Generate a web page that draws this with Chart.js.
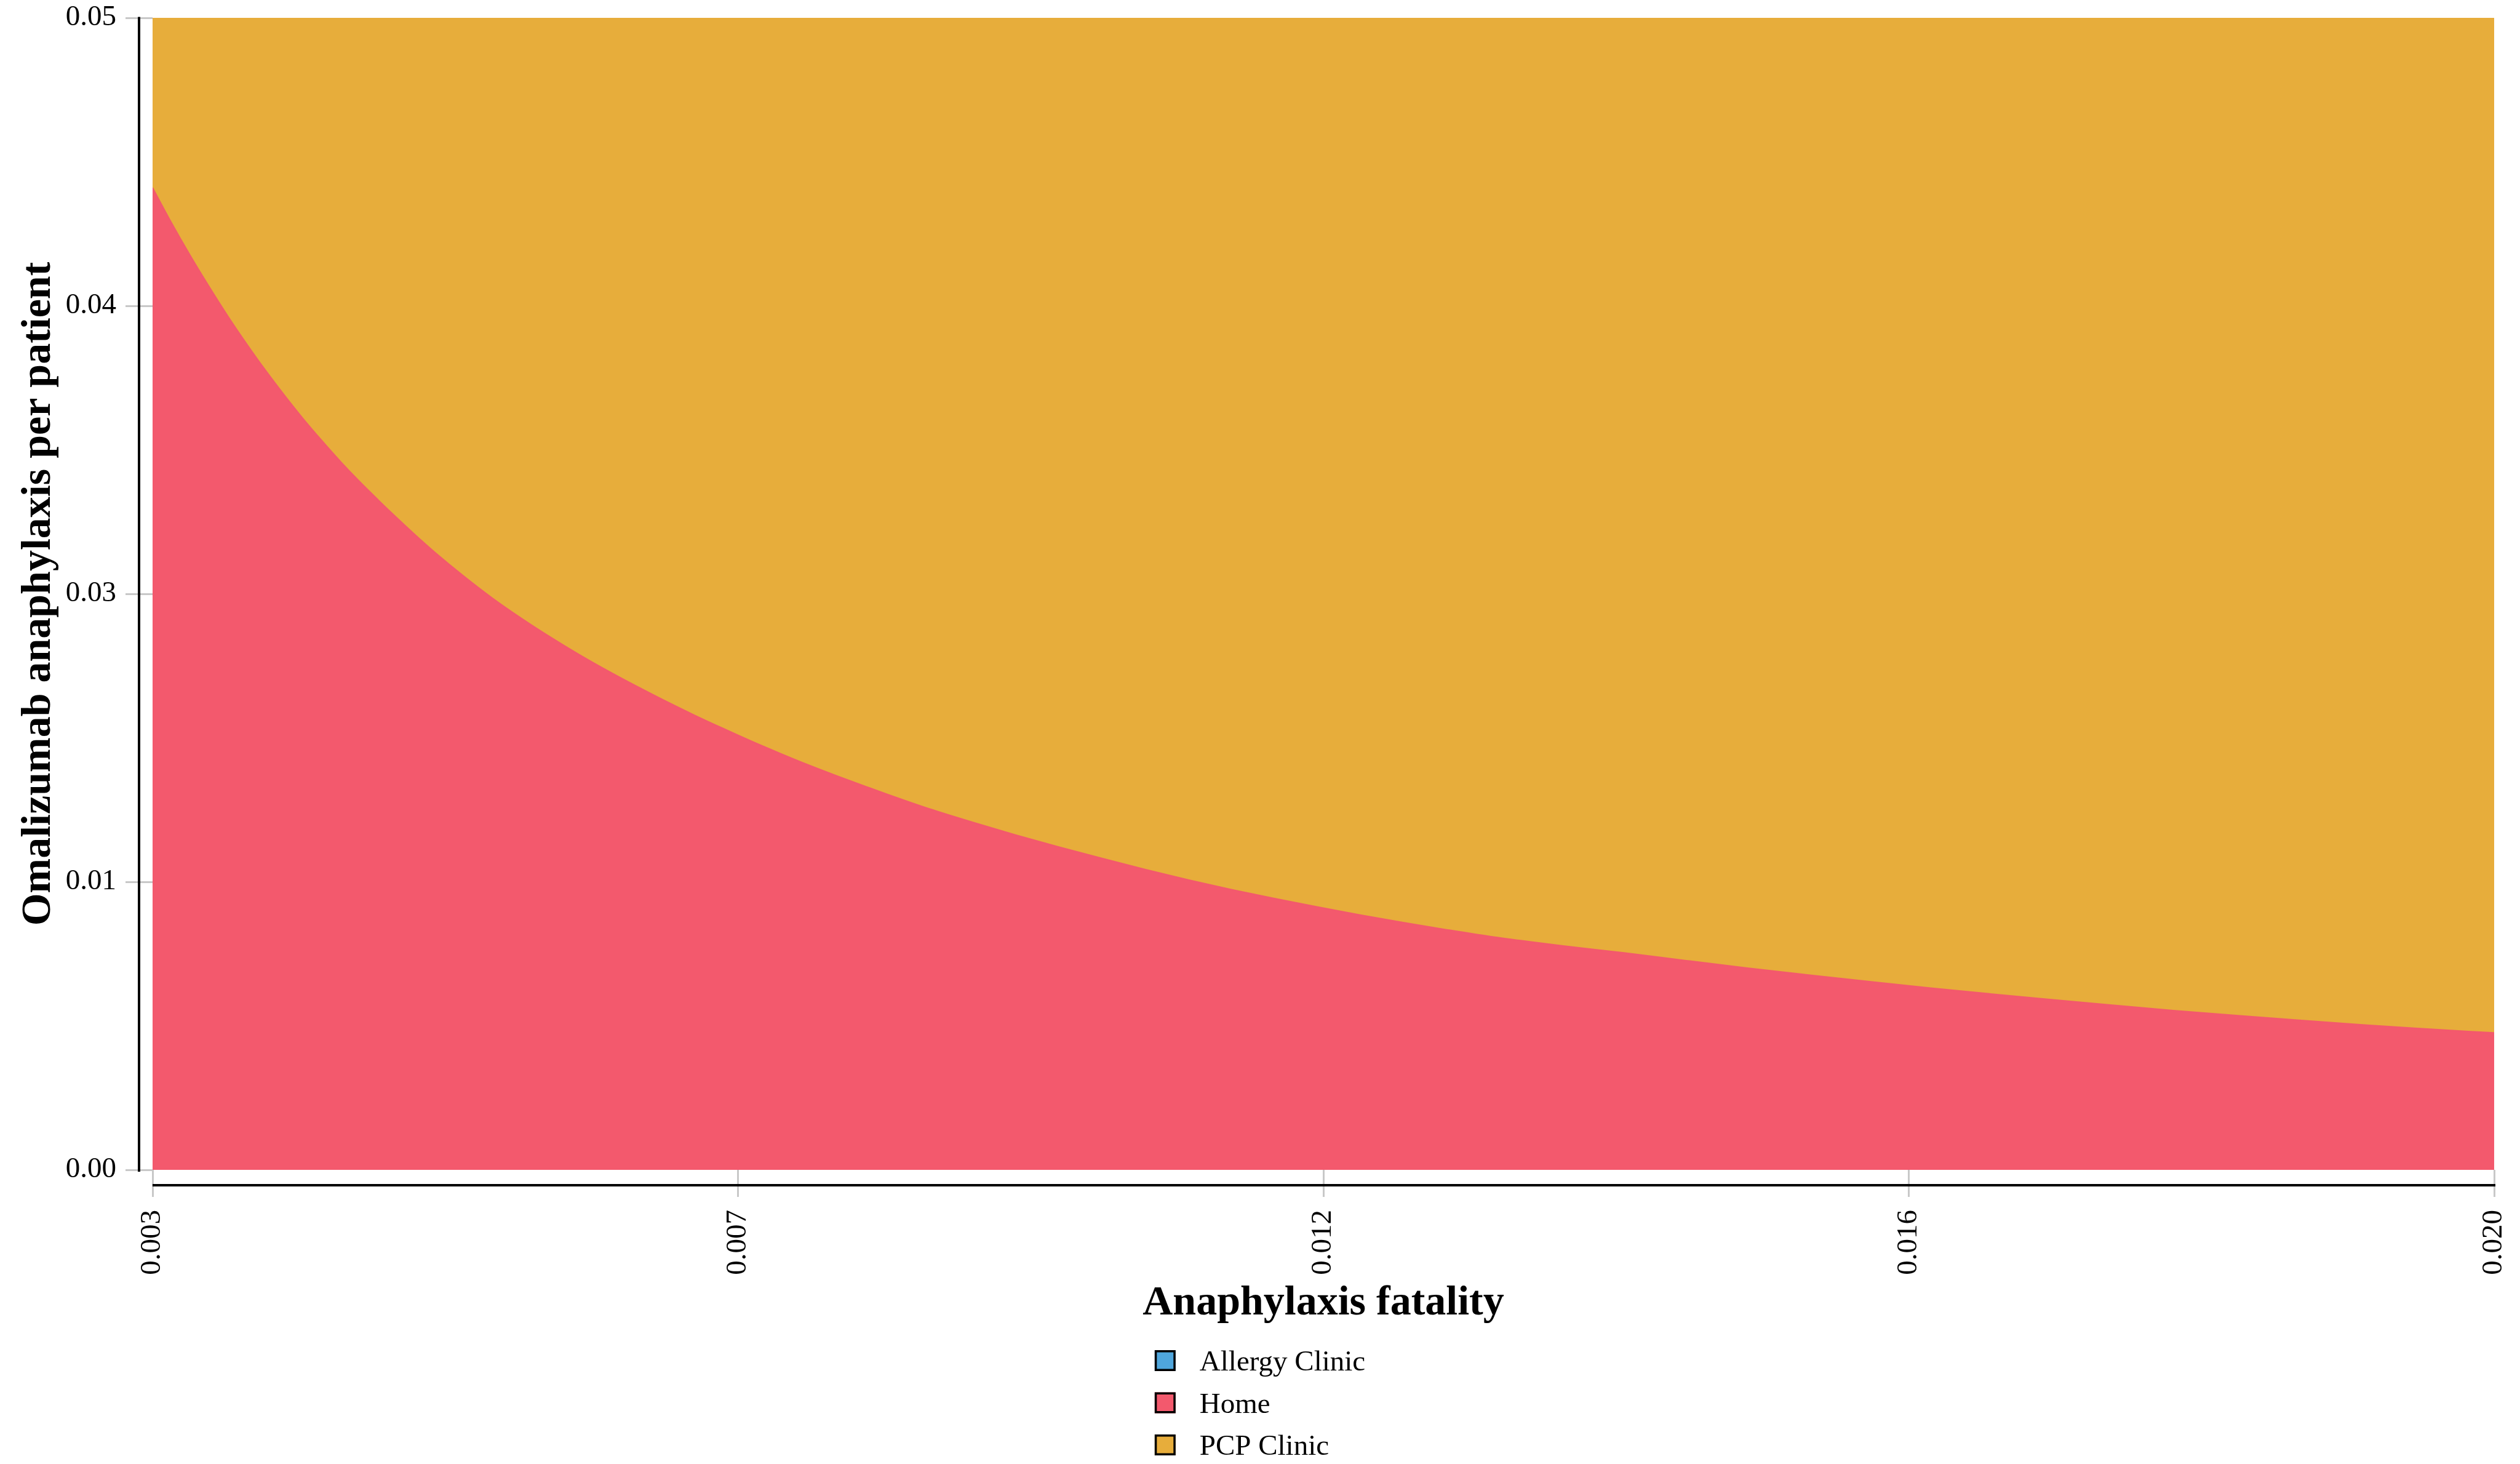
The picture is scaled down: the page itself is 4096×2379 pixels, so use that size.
<!DOCTYPE html>
<html>
<head>
<meta charset="utf-8">
<title>Anaphylaxis fatality - optimal strategy</title>
<script src="https://cdn.jsdelivr.net/npm/chart.js@4.4.1/dist/chart.umd.min.js"></script>
<style>
  html, body { margin: 0; padding: 0; background: #ffffff; }
  #wrap { position: relative; width: 4096px; height: 2379px; }
</style>
</head>
<body>
<div id="wrap"><canvas id="sensChart"></canvas></div>
<script>
// Nilai: batas antara "Home" dan "PCP Clinic"
const fatality = [
  0.003, 0.003136, 0.003273, 0.00341, 0.003546, 0.003683, 0.003819, 0.003956,
  0.004092, 0.004229, 0.004365, 0.004502, 0.004639, 0.004775, 0.004912, 0.005048,
  0.005257, 0.005466, 0.005675, 0.005884, 0.006093, 0.006302, 0.006511, 0.00672,
  0.006929, 0.007138, 0.007346, 0.007555, 0.007764, 0.007973, 0.008182, 0.008325,
  0.008639, 0.008952, 0.009265, 0.009579, 0.009893, 0.010205, 0.010519, 0.010832,
  0.011146, 0.011459, 0.011773, 0.012086, 0.0124, 0.012713, 0.013027, 0.013241,
  0.013683, 0.014126, 0.014568, 0.015012, 0.015455, 0.015898, 0.016341, 0.016784,
  0.017227, 0.017669, 0.018111, 0.018554, 0.018998, 0.019441, 0.02
];
const homeLimit = [
  0.04263, 0.04112, 0.03969, 0.03834, 0.03706, 0.03585, 0.03471, 0.03363,
  0.03261, 0.03165, 0.03074, 0.02988, 0.02907, 0.02829, 0.02753, 0.02681,
  0.02578, 0.02482, 0.02395, 0.02314, 0.02238, 0.02167, 0.02100, 0.02036,
  0.01975, 0.01917, 0.01861, 0.01808, 0.01757, 0.01709, 0.01663, 0.01632,
  0.01567, 0.01509, 0.01454, 0.01402, 0.01352, 0.01304, 0.01259, 0.01217,
  0.01178, 0.01141, 0.01106, 0.01073, 0.01042, 0.01013, 0.00988, 0.00972,
  0.00942, 0.00909, 0.00877, 0.00847, 0.00818, 0.00790, 0.00764, 0.00739,
  0.00715, 0.00692, 0.00671, 0.00651, 0.00632, 0.00614, 0.00595
];

const strategies = ["Allergy Clinic", "Home", "PCP Clinic"];
const strategyColors = ["#4FA6DC", "#F3596D", "#E7AD3B"];

const xTickValues = [0.003, 0.00725, 0.0115, 0.01575, 0.020];
const xTickLabels = ["0.003", "0.007", "0.012", "0.016", "0.020"];
const yTickValues = [0, 0.0125, 0.025, 0.0375, 0.05];
const yTickLabels = ["0.00", "0.01", "0.03", "0.04", "0.05"];

const serif = '"Liberation Serif", "Times New Roman", Times, serif';
Chart.defaults.font.family = serif;
Chart.defaults.color = "#000000";

const boundaryPoints = fatality.map((f, i) => ({ x: f, y: homeLimit[i] }));

// Garis sumbu digeser sedikit dari area plot (gaya d3)
const offsetAxes = {
  id: "offsetAxes",
  afterDraw(chart) {
    const { ctx, chartArea } = chart;
    ctx.save();
    ctx.strokeStyle = "#000000";
    ctx.lineWidth = 4;
    ctx.beginPath();
    ctx.moveTo(chartArea.left - 22, chartArea.top - 1.5);
    ctx.lineTo(chartArea.left - 22, chartArea.bottom + 3);
    ctx.stroke();
    ctx.beginPath();
    ctx.moveTo(chartArea.left, chartArea.bottom + 25);
    ctx.lineTo(chartArea.right + 2, chartArea.bottom + 25);
    ctx.stroke();
    ctx.restore();
  }
};

// Legenda vertikal di bawah judul sumbu x
const columnLegend = {
  id: "columnLegend",
  afterDraw(chart) {
    const { ctx } = chart;
    const box = 34, gap = 39, rowH = 68.5;
    ctx.save();
    ctx.font = "47px " + serif;
    const textW = Math.max(...strategies.map(s => ctx.measureText(s).width));
    const left = (chart.width - (box + gap + textW)) / 2;
    const top = chart.scales.x.bottom + 52;
    strategies.forEach((name, i) => {
      const cy = top + i * rowH;
      ctx.fillStyle = strategyColors[i];
      ctx.fillRect(left, cy - box / 2, box, box);
      ctx.strokeStyle = "#000000";
      ctx.lineWidth = 3.5;
      ctx.strokeRect(left + 1.75, cy - box / 2 + 1.75, box - 3.5, box - 3.5);
      ctx.fillStyle = "#000000";
      ctx.textBaseline = "middle";
      ctx.textAlign = "left";
      ctx.fillText(name, left + box + gap, cy + 4);
    });
    ctx.restore();
  }
};

const ctx = document.getElementById("sensChart").getContext("2d");
const sensChart = new Chart(ctx, {
  type: "line",
  data: {
    datasets: [
      {
        label: strategies[0],
        data: [],
        backgroundColor: strategyColors[0],
        borderColor: strategyColors[0],
        fill: false
      },
      {
        label: strategies[1],
        data: boundaryPoints,
        backgroundColor: strategyColors[1],
        borderColor: strategyColors[1],
        borderWidth: 2,
        pointRadius: 0,
        cubicInterpolationMode: "monotone",
        fill: "origin"
      },
      {
        label: strategies[2],
        data: boundaryPoints,
        backgroundColor: strategyColors[2],
        borderColor: strategyColors[2],
        borderWidth: 0,
        pointRadius: 0,
        cubicInterpolationMode: "monotone",
        fill: "end"
      }
    ]
  },
  options: {
    responsive: true,
    maintainAspectRatio: false,
    devicePixelRatio: 1,
    animation: false,
    layout: { padding: { top: 29, right: 42, bottom: 220, left: 0 } },
    plugins: {
      legend: { display: false },
      tooltip: { enabled: false }
    },
    scales: {
      x: {
        type: "linear",
        min: 0.003,
        max: 0.020,
        afterBuildTicks: (scale) => { scale.ticks = xTickValues.map(v => ({ value: v })); },
        afterFit: (scale) => {
          scale.height = 258;
          scale.paddingLeft = 0;
          scale.paddingRight = 0;
        },
        border: { display: false },
        grid: {
          drawOnChartArea: false,
          drawTicks: true,
          tickLength: 44,
          tickWidth: 3,
          tickColor: "#c8c8c8"
        },
        ticks: {
          autoSkip: false,
          minRotation: 90,
          maxRotation: 90,
          padding: 21,
          color: "#000000",
          font: { size: 47 },
          callback: (value, index) => xTickLabels[index]
        },
        title: {
          display: true,
          text: "Anaphylaxis fatality",
          color: "#000000",
          font: { size: 68, weight: "bold" },
          padding: { top: 0, bottom: 0 }
        }
      },
      y: {
        type: "linear",
        min: 0,
        max: 0.05,
        afterBuildTicks: (scale) => { scale.ticks = yTickValues.map(v => ({ value: v })); },
        afterFit: (scale) => {
          scale.width = 248;
          scale.paddingTop = 0;
          scale.paddingBottom = 0;
        },
        border: { display: false },
        grid: {
          drawOnChartArea: false,
          drawTicks: true,
          tickLength: 44,
          tickWidth: 3,
          tickColor: "#c8c8c8"
        },
        ticks: {
          padding: 15,
          color: "#000000",
          font: { size: 47 },
          callback: (value, index) => yTickLabels[index]
        },
        title: {
          display: true,
          text: "Omalizumab anaphylaxis per patient",
          color: "#000000",
          font: { size: 68, weight: "bold" },
          padding: { top: 23, bottom: 0 }
        }
      }
    }
  },
  plugins: [offsetAxes, columnLegend]
});
</script>
</body>
</html>
